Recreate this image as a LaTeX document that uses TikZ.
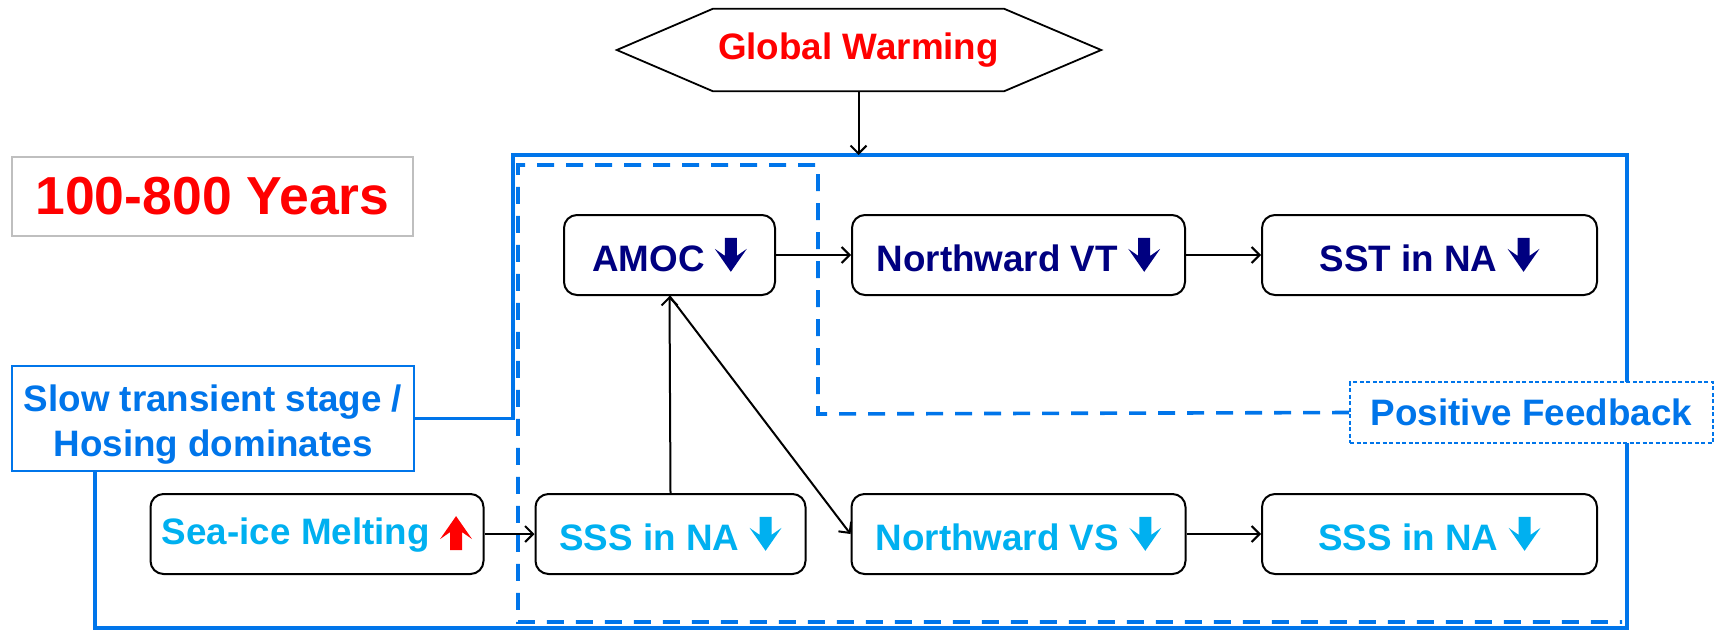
\documentclass[tikz,border=0pt]{standalone}
\usepackage{fontspec}
\setmainfont{Liberation Sans}
\usetikzlibrary{arrows.meta,backgrounds}
\definecolor{navyblue}{RGB}{0,0,128}
\definecolor{skycyan}{RGB}{0,176,240}
\definecolor{framebl}{RGB}{0,117,234}
\definecolor{boxgray}{RGB}{191,191,191}
% block arrows that follow the labels
\newcommand{\dnarr}[1]{\tikz[reset cm,baseline=0pt,x=1pt,y=1pt,sharp corners]\fill[#1] (-6,34) -- (6,34) -- (6,16) -- (16,23) -- (0,0) -- (-16,23) -- (-6,16) -- cycle;}
\newcommand{\uparr}[1]{\tikz[reset cm,baseline=6pt,x=1pt,y=1pt,sharp corners]\fill[#1] (-6,0) -- (6,0) -- (6,18) -- (16,11) -- (0,34) -- (-16,11) -- (-6,18) -- cycle;}
\begin{document}
\begin{tikzpicture}[x=1pt,y=1pt,yscale=-1,xscale=1,
  lbl/.style={font=\fontsize{36.8}{45}\selectfont\bfseries},
  box/.style={lbl, draw, fill=white, line width=2pt, rounded corners=13pt, minimum height=80pt, inner sep=0pt},
  conn/.style={line width=2pt, -{Straight Barb[length=8pt,width=16pt]}},
  frame/.style={framebl, line width=3.6pt}]
\useasboundingbox (0,0) rectangle (1721,630);

% Text Node
\draw (858.5,50) node [lbl, text=red, minimum width=291pt, minimum height=82pt, inner sep=0pt] (gw) {Global Warming};
\draw [line width=1.8pt] (gw.north west) -- (gw.north east) -- ([xshift=97pt]gw.east) -- (gw.south east) -- (gw.south west) -- ([xshift=-96pt]gw.west) -- cycle;
% Text Node
\draw (212.5,196.5) node [draw=boxgray, line width=1.6pt, text=red, font=\fontsize{53.5}{60}\selectfont\bfseries, minimum width=401pt, minimum height=79pt, inner sep=0pt] (yrs) {100-800 Years};
% Text Node
\draw (213,418.5) node [lbl, text=framebl, draw=framebl, fill=white, line width=1.6pt, align=center, minimum width=402pt, minimum height=105pt, inner sep=0pt] (slow) {\rule{0pt}{39pt}Slow transient stage /\\Hosing dominates};
% Text Node
\draw (1531.5,412.5) node [lbl, text=framebl, draw=framebl, fill=white, line width=1.6pt, dash pattern=on 4pt off 2.5pt, minimum width=363pt, minimum height=61pt, inner sep=0pt] (pf) {Positive Feedback};

% Boxes, upper row
\draw (669.5,255) node [box, text=navyblue, minimum width=211pt] (amoc) {AMOC \dnarr{navyblue}};
\draw (1018.5,255) node [box, text=navyblue, minimum width=333pt] (nvt) {Northward VT \dnarr{navyblue}};
\draw (1429.5,255) node [box, text=navyblue, minimum width=335pt] (sst) {SST in NA \dnarr{navyblue}};
% Boxes, lower row
\draw (317,534) node [box, text=skycyan, minimum width=333pt] (sea) {Sea-ice Melting \uparr{red}};
\draw (670.5,534) node [box, text=skycyan, minimum width=270pt] (sssa) {SSS in NA \dnarr{skycyan}};
\draw (1018.5,534) node [box, text=skycyan, minimum width=334pt] (nvs) {Northward VS \dnarr{skycyan}};
\draw (1429.5,534) node [box, text=skycyan, minimum width=335pt] (sssb) {SSS in NA \dnarr{skycyan}};

% Frames
\begin{scope}[on background layer]
\draw [frame] (slow.east) -- (513,418.5) -- (513,155) -- (1627,155) -- (1627,628) -- (95,628) -- (95,0 |- slow.south);
\draw [frame, dash pattern=on 17pt off 12pt] (pf.west) -- (818,414) -- (818,165) -- (518,165) -- (518,622) -- (1622,622);
\end{scope}

%Straight Lines
\coordinate (gwin) at (858.5,155);
\draw [conn] (gw.south) -- (gwin);
\draw [conn] (amoc.east) -- (nvt.west);
\draw [conn] (nvt.east) -- (sst.west);
\draw [conn] (sea.east) -- (sssa.west);
\draw [conn] (nvs.east) -- (sssb.west);
\draw [conn] (sssa.north) -- (amoc.south);
\draw [conn] (amoc.south) -- (nvs.west);
\end{tikzpicture}
\end{document}
